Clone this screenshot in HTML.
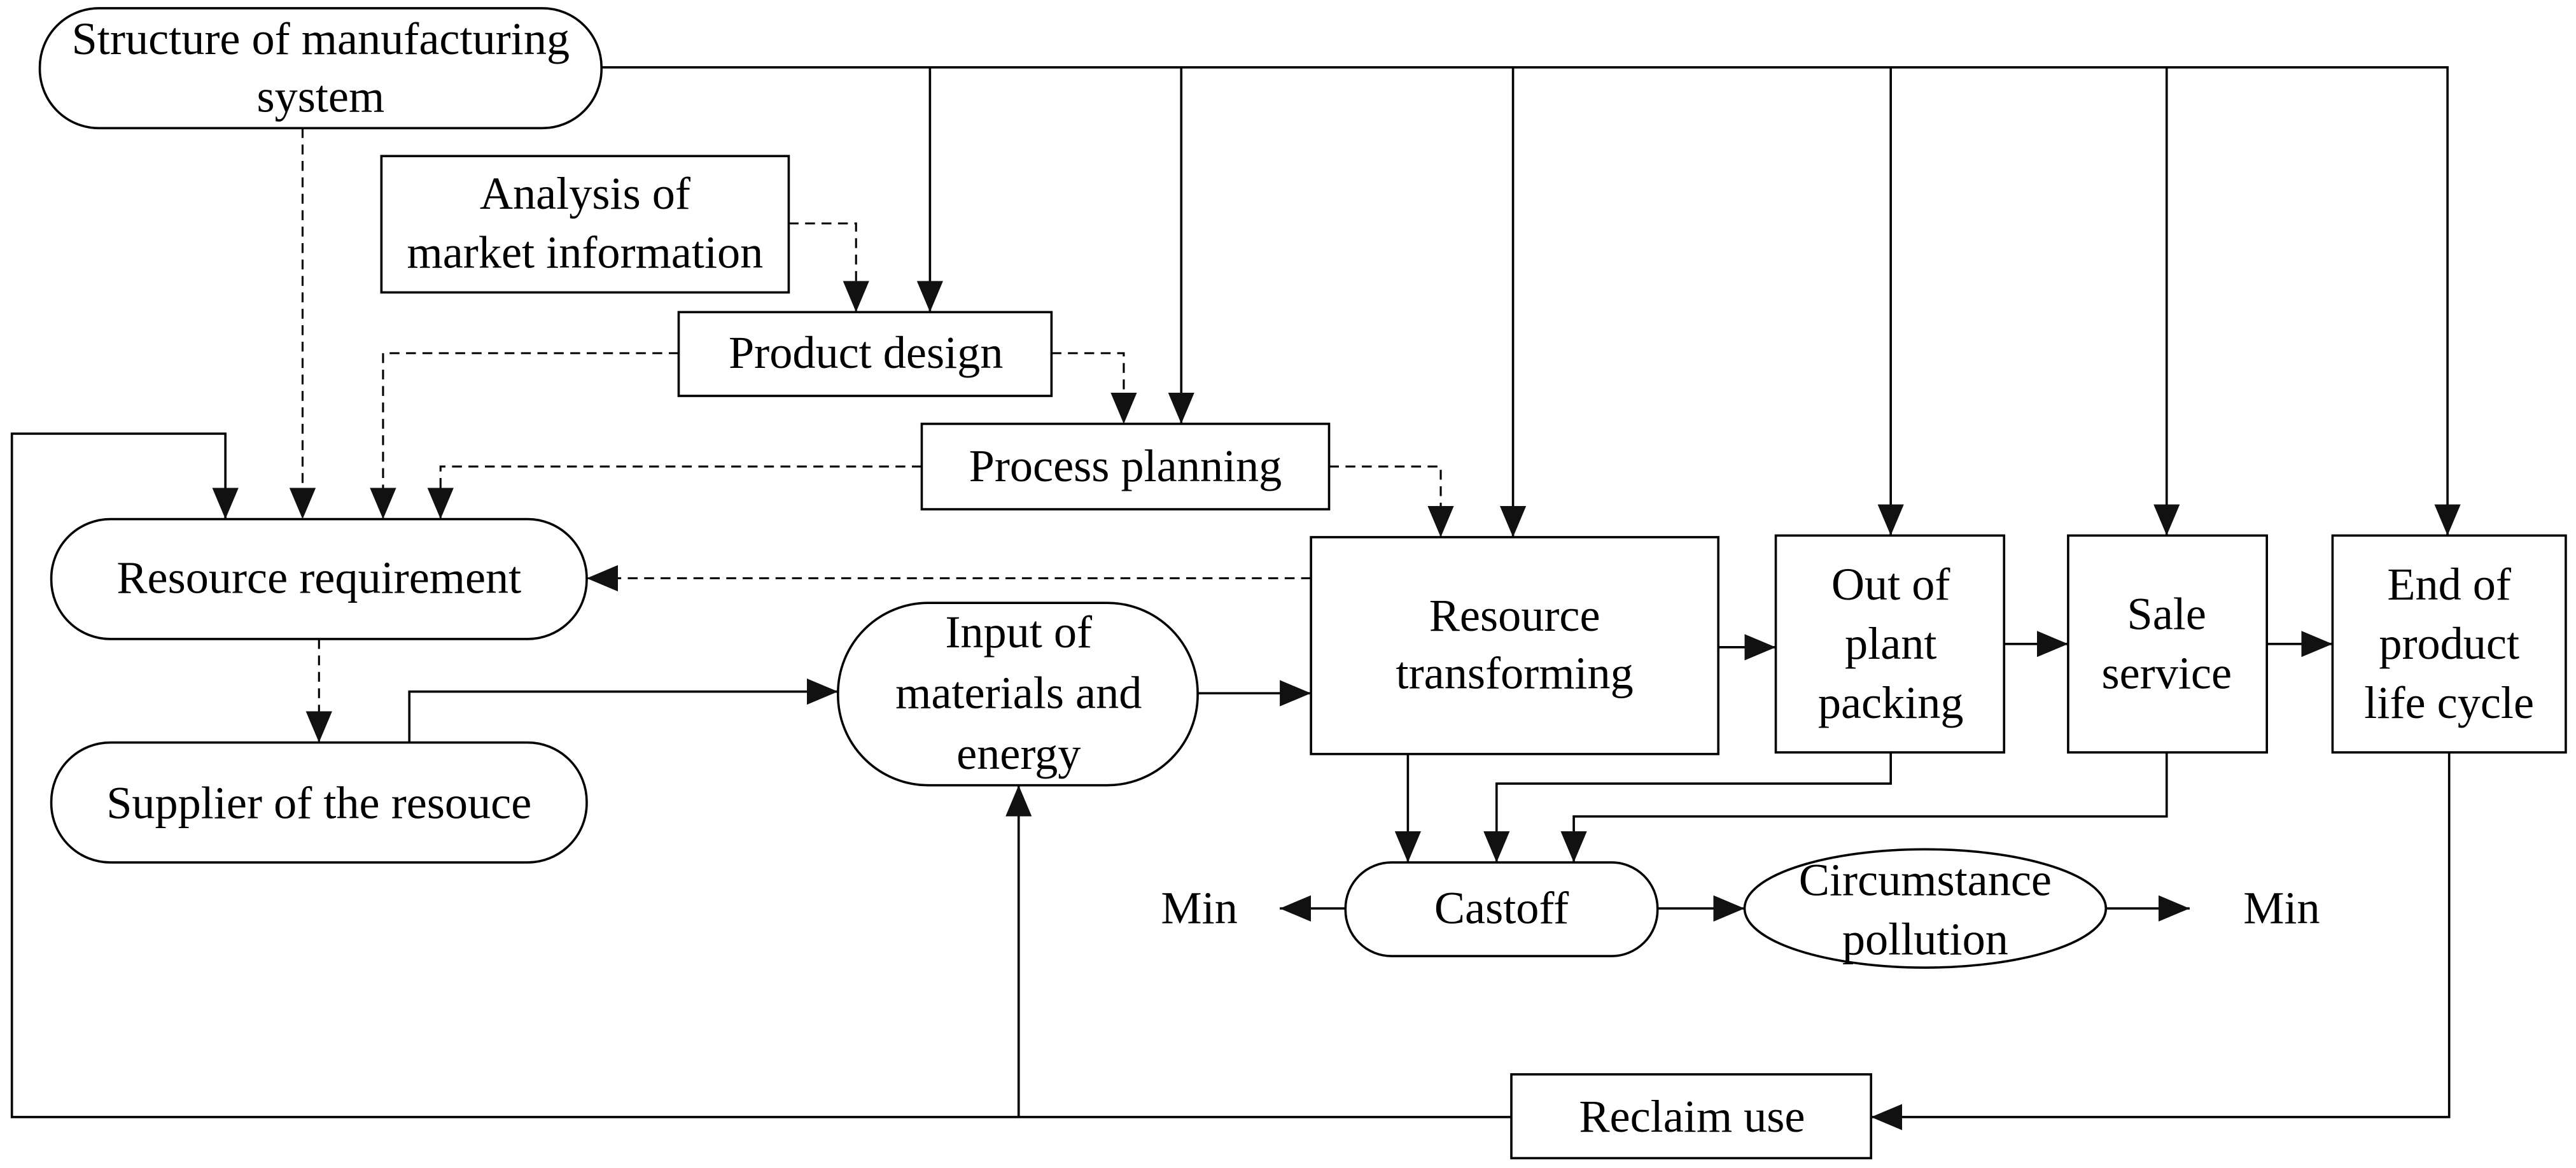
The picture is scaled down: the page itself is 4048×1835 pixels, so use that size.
<!DOCTYPE html>
<html><head><meta charset="utf-8"><style>
html,body{margin:0;padding:0;background:#fff;}
svg{display:block;}
text{font-family:"Liberation Serif",serif;font-size:28px;fill:#000;text-anchor:middle;}
</style></head><body>
<svg width="4048" height="1835" viewBox="0 0 1568 711" xmlns="http://www.w3.org/2000/svg">
<defs>
<marker id="a" markerUnits="userSpaceOnUse" markerWidth="22" markerHeight="18" refX="19" refY="8" orient="auto">
<path d="M0,0 L19,8 L0,16 Z" fill="#111"/>
</marker>
</defs>
<g fill="none" stroke="#000" stroke-width="1.4">
<rect x="24" y="5" width="342" height="73" rx="36"/>
<rect x="232" y="95" width="248" height="83"/>
<rect x="413" y="190" width="227" height="51"/>
<rect x="561" y="258" width="248" height="52"/>
<rect x="31" y="316" width="326" height="73" rx="36"/>
<rect x="31" y="452" width="326" height="73" rx="36"/>
<rect x="510" y="367" width="219" height="111" rx="55"/>
<rect x="798" y="327" width="248" height="132"/>
<rect x="1081" y="326" width="139" height="132"/>
<rect x="1259" y="326" width="121" height="132"/>
<rect x="1420" y="326" width="142" height="132"/>
<rect x="819" y="525" width="190" height="57" rx="28"/>
<ellipse cx="1172" cy="553" rx="110" ry="36"/>
<rect x="920" y="654" width="219" height="51"/>
</g>
<g fill="none" stroke="#000" stroke-width="1.4">
<path d="M366,41 H1490 V326" marker-end="url(#a)"/>
<path d="M566,41 V190" marker-end="url(#a)"/>
<path d="M719,41 V258" marker-end="url(#a)"/>
<path d="M921,41 V327" marker-end="url(#a)"/>
<path d="M1151,41 V326" marker-end="url(#a)"/>
<path d="M1319,41 V326" marker-end="url(#a)"/>
<path d="M920,680 H7 V264 H137 V316" marker-end="url(#a)"/>
<path d="M620,680 V478" marker-end="url(#a)"/>
<path d="M249,452 V421 H510" marker-end="url(#a)"/>
<path d="M729,422 H798" marker-end="url(#a)"/>
<path d="M1046,394 H1081" marker-end="url(#a)"/>
<path d="M1220,392 H1259" marker-end="url(#a)"/>
<path d="M1380,392 H1420" marker-end="url(#a)"/>
<path d="M1491,458 V680 H1139" marker-end="url(#a)"/>
<path d="M857,459 V525" marker-end="url(#a)"/>
<path d="M1151,458 V477 H911 V525" marker-end="url(#a)"/>
<path d="M1319,458 V497 H958 V525" marker-end="url(#a)"/>
<path d="M819,553 H779" marker-end="url(#a)"/>
<path d="M1009,553 H1062" marker-end="url(#a)"/>
<path d="M1282,553 H1333" marker-end="url(#a)"/>
</g>
<g fill="none" stroke="#000" stroke-width="1.2" stroke-dasharray="6,4">
<path d="M184,78 V316" marker-end="url(#a)"/>
<path d="M480,136 H521 V190" marker-end="url(#a)"/>
<path d="M413,215 H233 V316" marker-end="url(#a)"/>
<path d="M640,215 H684 V258" marker-end="url(#a)"/>
<path d="M561,284 H268 V316" marker-end="url(#a)"/>
<path d="M809,284 H877 V327" marker-end="url(#a)"/>
<path d="M798,352 H357" marker-end="url(#a)"/>
<path d="M194,389 V452" marker-end="url(#a)"/>
</g>
<g>
<text x="195" y="33">Structure of manufacturing</text>
<text x="195" y="68">system</text>
<text x="356" y="127">Analysis of</text>
<text x="356" y="163">market information</text>
<text x="527" y="224">Product design</text>
<text x="685" y="293">Process planning</text>
<text x="194" y="361">Resource requirement</text>
<text x="194" y="498">Supplier of the resouce</text>
<text x="620" y="394">Input of</text>
<text x="620" y="431">materials and</text>
<text x="620" y="468">energy</text>
<text x="922" y="384">Resource</text>
<text x="922" y="419">transforming</text>
<text x="1151" y="365">Out of</text>
<text x="1151" y="401">plant</text>
<text x="1151" y="437">packing</text>
<text x="1319" y="383">Sale</text>
<text x="1319" y="419">service</text>
<text x="1491" y="365">End of</text>
<text x="1491" y="401">product</text>
<text x="1491" y="437">life cycle</text>
<text x="914" y="562">Castoff</text>
<text x="1172" y="545">Circumstance</text>
<text x="1172" y="581">pollution</text>
<text x="730" y="562">Min</text>
<text x="1389" y="562">Min</text>
<text x="1030" y="689">Reclaim use</text>
</g>
</svg>
</body></html>
